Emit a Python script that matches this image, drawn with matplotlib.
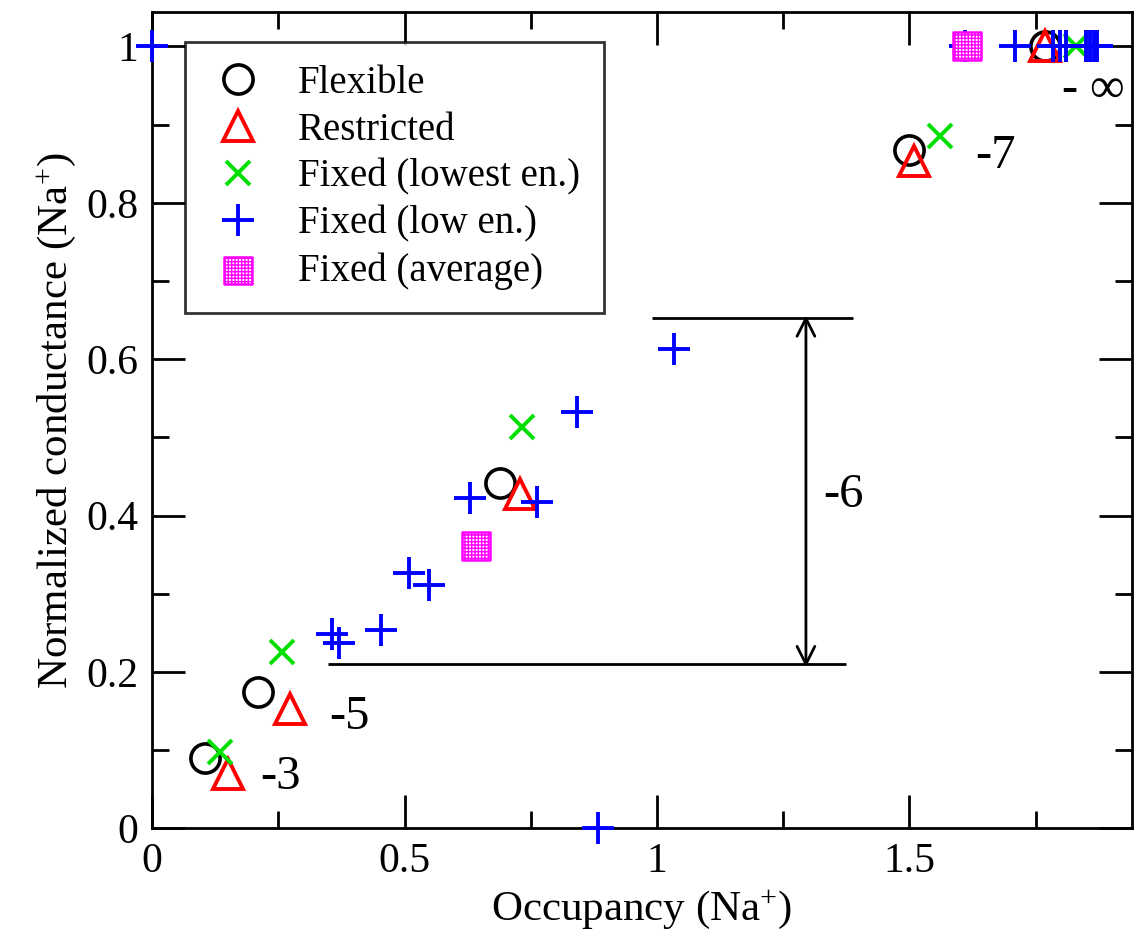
import numpy as np
import matplotlib.pyplot as plt
import matplotlib as mpl
from matplotlib.ticker import MultipleLocator

mpl.rcParams.update({
    "font.family": ["Liberation Serif", "DejaVu Serif"],
    "mathtext.fontset": "custom",
    "mathtext.rm": "Liberation Serif",
    "mathtext.it": "Liberation Serif:italic",
    "font.size": 30,
})

# occupancy / normalized conductance per model
flex_x = [0.105, 0.21, 0.689, 1.499, 1.768]
flex_y = [0.09, 0.174, 0.442, 0.867, 1.0]

restr_x = [0.150, 0.273, 0.729, 1.509, 1.768]
restr_y = [0.070, 0.153, 0.427, 0.854, 1.0]

lowest_x = [0.135, 0.257, 0.733, 1.560, 1.83]
lowest_y = [0.097, 0.225, 0.513, 0.885, 1.0]

low_x = [0.0, 0.883, 0.356, 0.370, 0.453, 0.509, 0.549, 0.630, 0.762, 0.842, 1.034,
         1.61, 1.709, 1.784, 1.798, 1.81, 1.85, 1.857, 1.865, 1.871]
low_y = [1.0, 0.0, 0.249, 0.237, 0.254, 0.326, 0.311, 0.423, 0.417, 0.532, 0.613,
         1.0, 1.0, 1.0, 1.0, 1.0, 1.0, 1.0, 1.0, 1.0]

avg_x = [0.642, 1.614]
avg_y = [0.361, 1.0]

# labels next to groups of points
lab_text = ["-3", "-5", "-7", r"- $\infty$"]
lab_x = [0.215, 0.35, 1.63, 1.8]
lab_y = [0.066, 0.143, 0.86, 0.944]

fig = plt.figure(figsize=(11.35, 9.51), dpi=100)
ax = fig.add_axes([0.134, 0.129, 0.997 - 0.134, 0.987 - 0.129])

ax.plot(flex_x, flex_y, "o", ms=21, mfc="none", mec="black", mew=2.6,
        label="Flexible", clip_on=False, zorder=3)
ax.plot(restr_x, restr_y, "^", ms=22, mfc="none", mec="red", mew=2.8,
        label="Restricted", clip_on=False, zorder=3)
ax.plot(lowest_x, lowest_y, "x", ms=17, mec="#00e000", mew=2.8,
        label="Fixed (lowest en.)", clip_on=False, zorder=3)
ax.plot(low_x, low_y, "+", ms=23, mec="blue", mew=2.8,
        label="Fixed (low en.)", clip_on=False, zorder=3)
ax.scatter(avg_x, avg_y, s=400, marker="s", facecolor="white",
           edgecolor="magenta", hatch="+++++", linewidths=1.8,
           label="Fixed (average)", clip_on=False, zorder=4)

for t, x, y in zip(lab_text, lab_x, lab_y):
    ax.text(x, y, t, fontsize=35, va="center", ha="left")

# bracket marking the -6 range
ax.hlines(0.652, 0.99, 1.388, color="black", lw=2.0)
ax.hlines(0.21, 0.349, 1.374, color="black", lw=2.0)
ax.annotate("", xy=(1.295, 0.206), xytext=(1.295, 0.656),
            arrowprops=dict(arrowstyle="<->", lw=2.0, color="black",
                            mutation_scale=32, shrinkA=0, shrinkB=0))
ax.text(1.33, 0.426, "-6", fontsize=35, va="center", ha="left")

ax.set_xlim(0, 1.94)
ax.set_ylim(0, 1.0435)
ax.xaxis.set_minor_locator(MultipleLocator(0.25))
ax.yaxis.set_minor_locator(MultipleLocator(0.1))
ax.set_xticks([0, 0.5, 1, 1.5])
ax.set_xticklabels(["0", "0.5", "1", "1.5"])
ax.set_yticks([0, 0.2, 0.4, 0.6, 0.8, 1.0])
ax.set_yticklabels(["0", "0.2", "0.4", "0.6", "0.8", "1"])
ax.tick_params(which="both", direction="in", top=True, right=True, width=2.0)
ax.tick_params(which="major", length=24, pad=10, labelsize=30)
ax.tick_params(which="minor", length=12)
for s in ax.spines.values():
    s.set_linewidth(2.0)

ax.set_xlabel("Occupancy (Na$^{+}$)", fontsize=31, labelpad=6)
ax.set_ylabel("Normalized conductance (Na$^{+}$)", fontsize=31, labelpad=6)

leg = ax.legend(loc="upper left", bbox_to_anchor=(0.034, 0.964), fontsize=28,
                frameon=True, fancybox=False, edgecolor="black",
                handletextpad=0.8, borderpad=0.6, labelspacing=0.25,
                handlelength=1.5, borderaxespad=0)
leg.get_frame().set_linewidth(2.0)
leg.set_zorder(2)

plt.savefig("out.png", dpi=100)
